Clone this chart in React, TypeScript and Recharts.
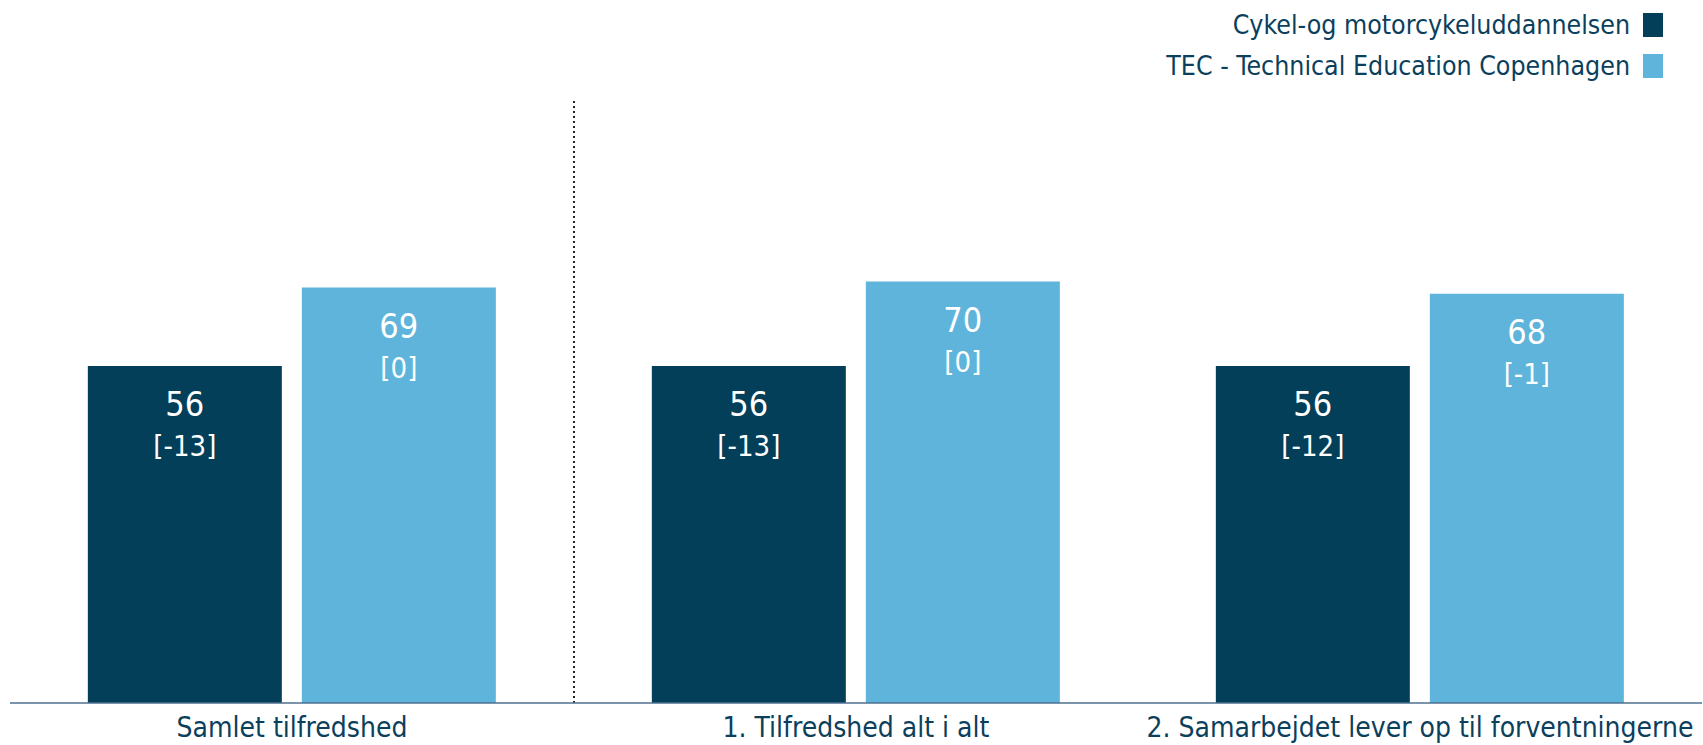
import { BarChart, Bar, XAxis, YAxis, Legend, LabelList, ReferenceLine } from 'recharts'

const categories = ['Samlet tilfredshed', '1. Tilfredshed alt i alt', '2. Samarbejdet lever op til forventningerne']
const cykelValues = [56, 56, 56]
const cykelDiff = [-13, -13, -12]
const tecValues = [69, 70, 68]
const tecDiff = [0, 0, -1]

const seriesNames = ['Cykel-og motorcykeluddannelsen', 'TEC - Technical Education Copenhagen']
const DARK = '#043F5A'
const LIGHT = '#5EB4DA'
const TEXT = '#0B3F5C'
const FONT = "'DejaVu Sans Condensed', 'DejaVu Sans', sans-serif"

const data = categories.map((name, i) => ({
  name,
  cykel: cykelValues[i],
  cykelDiff: cykelDiff[i],
  tec: tecValues[i],
  tecDiff: tecDiff[i],
}))

const makeLabel = (diffs: number[]) => (props: any) => {
  const { x, y, width, value, index } = props
  const cx = x + width / 2
  return (
    <g>
      <text x={cx} y={y + 50} textAnchor="middle" fill="#fff" fontSize={34} fontFamily={FONT}>
        {value}
      </text>
      <text x={cx} y={y + 90} textAnchor="middle" fill="#fff" fontSize={29} fontFamily={FONT}>
        [{diffs[index]}]
      </text>
    </g>
  )
}

const CategoryTick = ({ x, y, payload }: any) => (
  <text x={x} y={y} dy={34} textAnchor="middle" fill={TEXT} fontSize={28} fontFamily={FONT}>
    {payload.value}
  </text>
)

const renderLegend = () => (
  <div style={{ fontFamily: FONT, fontSize: 26.5, color: TEXT }}>
    {seriesNames.map((n, i) => (
      <div key={n} style={{ display: 'flex', alignItems: 'center', justifyContent: 'flex-end', height: 41 }}>
        <span>{n}</span>
        <span style={{ width: 20, height: 24, marginLeft: 13, background: i === 0 ? DARK : LIGHT, display: 'inline-block' }} />
      </div>
    ))}
  </div>
)

export default function App() {
  return (
    <div style={{ position: 'absolute', left: 0, top: 0, width: 1703, height: 745, background: '#fff' }}>
      <BarChart
        width={1703}
        height={745}
        data={data}
        margin={{ top: 101, right: 1, left: 10, bottom: 0 }}
        barGap={20}
        barCategoryGap="13.8%"
      >
        <XAxis
          dataKey="name"
          height={42}
          tickLine={false}
          tickSize={0}
          tickMargin={0}
          axisLine={{ stroke: '#4F6F8F', strokeWidth: 1.5 }}
          tick={<CategoryTick />}
          interval={0}
        />
        <YAxis domain={[0, 100]} hide />
        <ReferenceLine x={categories[1]} position="start" stroke="#222" strokeWidth={2} strokeDasharray="2 3" />
        <Legend layout="vertical" align="center" verticalAlign="middle" content={renderLegend}
          wrapperStyle={{ top: 4, right: 40, left: 'auto', width: 'auto', height: 'auto' }} />
        <Bar dataKey="cykel" name={seriesNames[0]} fill={DARK} isAnimationActive={false}>
          <LabelList dataKey="cykel" content={makeLabel(cykelDiff)} />
        </Bar>
        <Bar dataKey="tec" name={seriesNames[1]} fill={LIGHT} isAnimationActive={false}>
          <LabelList dataKey="tec" content={makeLabel(tecDiff)} />
        </Bar>
      </BarChart>
    </div>
  )
}
